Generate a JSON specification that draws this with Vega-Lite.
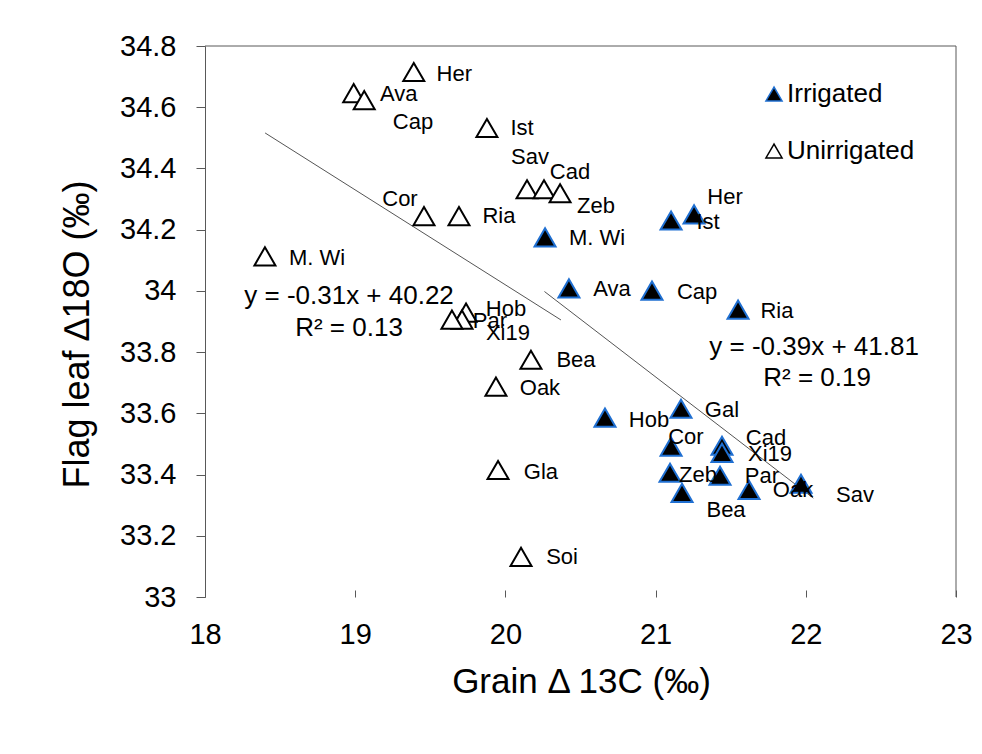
{
  "$schema": "https://vega.github.io/schema/vega-lite/v6.json",
  "width": 751,
  "height": 551,
  "autosize": {"type": "none"},
  "padding": {"left": 205, "top": 46, "right": 26, "bottom": 157},
  "background": "white",
  "config": {
    "view": {"stroke": null},
    "font": "Liberation Sans",
    "axis": {"grid": false, "domainColor": "#595959", "tickColor": "#595959", "labelColor": "#000000", "titleColor": "#000000", "labelFont": "Liberation Sans", "titleFont": "Liberation Sans", "titleFontWeight": "normal", "labelFlush": false}
  },
  "datasets": {
    "pts": [
      {"name": "Her", "group": "Unirrigated", "x": 19.39, "y": 34.715, "lx": 19.66, "ly": 34.71},
      {"name": "Ava", "group": "Unirrigated", "x": 18.99, "y": 34.646, "lx": 19.29, "ly": 34.643},
      {"name": "Cap", "group": "Unirrigated", "x": 19.06, "y": 34.623, "lx": 19.385, "ly": 34.551},
      {"name": "Ist", "group": "Unirrigated", "x": 19.877, "y": 34.532, "lx": 20.111, "ly": 34.532},
      {"name": "Sav", "group": "Unirrigated", "x": 20.144, "y": 34.332, "lx": 20.164, "ly": 34.437},
      {"name": "Cad", "group": "Unirrigated", "x": 20.257, "y": 34.332, "lx": 20.43, "ly": 34.388},
      {"name": "Zeb", "group": "Unirrigated", "x": 20.364, "y": 34.319, "lx": 20.603, "ly": 34.276},
      {"name": "Cor", "group": "Unirrigated", "x": 19.458, "y": 34.244, "lx": 19.298, "ly": 34.299},
      {"name": "Ria", "group": "Unirrigated", "x": 19.691, "y": 34.244, "lx": 19.957, "ly": 34.244},
      {"name": "M. Wi", "group": "Unirrigated", "x": 18.399, "y": 34.113, "lx": 18.746, "ly": 34.109},
      {"name": "Hob", "group": "Unirrigated", "x": 19.738, "y": 33.929, "lx": 20.004, "ly": 33.942},
      {"name": "Par", "group": "Unirrigated", "x": 19.711, "y": 33.906, "lx": 19.897, "ly": 33.903},
      {"name": "Xi19", "group": "Unirrigated", "x": 19.644, "y": 33.906, "lx": 20.017, "ly": 33.864},
      {"name": "Bea", "group": "Unirrigated", "x": 20.17, "y": 33.775, "lx": 20.47, "ly": 33.775},
      {"name": "Oak", "group": "Unirrigated", "x": 19.937, "y": 33.687, "lx": 20.23, "ly": 33.684},
      {"name": "Gla", "group": "Unirrigated", "x": 19.951, "y": 33.415, "lx": 20.237, "ly": 33.409},
      {"name": "Soi", "group": "Unirrigated", "x": 20.104, "y": 33.131, "lx": 20.377, "ly": 33.131},
      {"name": "Her", "group": "Irrigated", "x": 21.256, "y": 34.25, "lx": 21.462, "ly": 34.306},
      {"name": "Ist", "group": "Irrigated", "x": 21.103, "y": 34.23, "lx": 21.349, "ly": 34.224},
      {"name": "M. Wi", "group": "Irrigated", "x": 20.264, "y": 34.175, "lx": 20.61, "ly": 34.172},
      {"name": "Ava", "group": "Irrigated", "x": 20.423, "y": 34.008, "lx": 20.71, "ly": 34.005},
      {"name": "Cap", "group": "Irrigated", "x": 20.976, "y": 34.001, "lx": 21.276, "ly": 33.995},
      {"name": "Ria", "group": "Irrigated", "x": 21.549, "y": 33.939, "lx": 21.808, "ly": 33.933},
      {"name": "Gal", "group": "Irrigated", "x": 21.169, "y": 33.615, "lx": 21.442, "ly": 33.612},
      {"name": "Hob", "group": "Irrigated", "x": 20.663, "y": 33.586, "lx": 20.956, "ly": 33.579},
      {"name": "Cor", "group": "Irrigated", "x": 21.103, "y": 33.491, "lx": 21.202, "ly": 33.523},
      {"name": "Cad", "group": "Irrigated", "x": 21.442, "y": 33.494, "lx": 21.735, "ly": 33.52},
      {"name": "Xi19", "group": "Irrigated", "x": 21.442, "y": 33.471, "lx": 21.762, "ly": 33.468},
      {"name": "Zeb", "group": "Irrigated", "x": 21.096, "y": 33.406, "lx": 21.282, "ly": 33.399},
      {"name": "Par", "group": "Irrigated", "x": 21.429, "y": 33.396, "lx": 21.708, "ly": 33.396},
      {"name": "Bea", "group": "Irrigated", "x": 21.176, "y": 33.34, "lx": 21.469, "ly": 33.284},
      {"name": "Oak", "group": "Irrigated", "x": 21.622, "y": 33.35, "lx": 21.915, "ly": 33.35},
      {"name": "Sav", "group": "Irrigated", "x": 21.968, "y": 33.37, "lx": 22.328, "ly": 33.334}
    ],
    "trend": [
      {"group": "Unirrigated", "x": 18.4, "y": 34.516},
      {"group": "Unirrigated", "x": 20.37, "y": 33.905},
      {"group": "Irrigated", "x": 20.26, "y": 33.998},
      {"group": "Irrigated", "x": 22.05, "y": 33.323}
    ],
    "eq": [
      {"x": 18.959, "y": 33.982, "text": "y = -0.31x + 40.22"},
      {"x": 18.959, "y": 33.88, "text": "R² = 0.13"},
      {"x": 22.055, "y": 33.818, "text": "y = -0.39x + 41.81"},
      {"x": 22.075, "y": 33.717, "text": "R² = 0.19"}
    ]
  },
  "layer": [
    {
      "data": {"values": [{}]},
      "mark": {"type": "rule", "color": "#595959", "strokeWidth": 1},
      "encoding": {"y": {"datum": 34.8, "type": "quantitative"}}
    },
    {
      "data": {"values": [{}]},
      "mark": {"type": "rule", "color": "#595959", "strokeWidth": 1},
      "encoding": {"x": {"datum": 23, "type": "quantitative"}}
    },
    {
      "data": {"name": "trend"},
      "mark": {"type": "line", "color": "#555555", "strokeWidth": 1},
      "encoding": {
        "x": {"field": "x", "type": "quantitative"},
        "y": {"field": "y", "type": "quantitative"},
        "detail": {"field": "group"}
      }
    },
    {
      "data": {"name": "pts"},
      "mark": {"type": "point", "shape": "triangle-up", "size": 440, "filled": true, "strokeWidth": 2, "opacity": 1},
      "encoding": {
        "x": {
          "field": "x", "type": "quantitative",
          "scale": {"domain": [18, 23], "nice": false, "zero": false},
          "axis": {
            "title": "Grain Δ 13C  (‰)", "values": [18, 19, 20, 21, 22, 23], "format": "d",
            "domain": false, "tickSize": 7, "offset": -7,
            "labelFontSize": 29, "labelPadding": 23,
            "titleFontSize": 35, "titleBaseline": "alphabetic", "titleY": 102, "titleX": 376
          }
        },
        "y": {
          "field": "y", "type": "quantitative",
          "scale": {"domain": [33, 34.8], "nice": false, "zero": false},
          "axis": {
            "title": "Flag leaf  ∆18O (‰)", "values": [33, 33.2, 33.4, 33.6, 33.8, 34, 34.2, 34.4, 34.6, 34.8],
            "format": ".1~f", "tickSize": 9, "labelFontSize": 29, "labelPadding": 20,
            "titleFontSize": 36, "titleBaseline": "alphabetic", "titleX": -117, "titleY": 288, "titleAngle": -90, "titleAlign": "center"
          }
        },
        "fill": {
          "field": "group", "type": "nominal",
          "scale": {"domain": ["Irrigated", "Unirrigated"], "range": ["#000000", "#ffffff"]},
          "legend": {"title": null, "orient": "none", "legendX": 556, "legendY": 35, "symbolType": "triangle-up", "symbolSize": 260, "symbolStrokeWidth": 1.5, "labelFontSize": 26, "labelOffset": 0, "rowPadding": 31, "padding": 0, "labelColor": "#000000"}
        },
        "stroke": {
          "field": "group", "type": "nominal",
          "scale": {"domain": ["Irrigated", "Unirrigated"], "range": ["#1f6fd1", "#000000"]},
          "legend": {"title": null, "orient": "none", "legendX": 556, "legendY": 35, "symbolType": "triangle-up", "symbolSize": 260, "symbolStrokeWidth": 1.5, "labelFontSize": 26, "labelOffset": 0, "rowPadding": 31, "padding": 0, "labelColor": "#000000"}
        }
      }
    },
    {
      "data": {"name": "pts"},
      "mark": {"type": "text", "fontSize": 22, "align": "center", "baseline": "middle", "color": "#000000"},
      "encoding": {
        "x": {"field": "lx", "type": "quantitative"},
        "y": {"field": "ly", "type": "quantitative"},
        "text": {"field": "name"}
      }
    },
    {
      "data": {"name": "eq"},
      "mark": {"type": "text", "fontSize": 26, "align": "center", "baseline": "middle", "color": "#000000"},
      "encoding": {
        "x": {"field": "x", "type": "quantitative"},
        "y": {"field": "y", "type": "quantitative"},
        "text": {"field": "text"}
      }
    }
  ]
}
